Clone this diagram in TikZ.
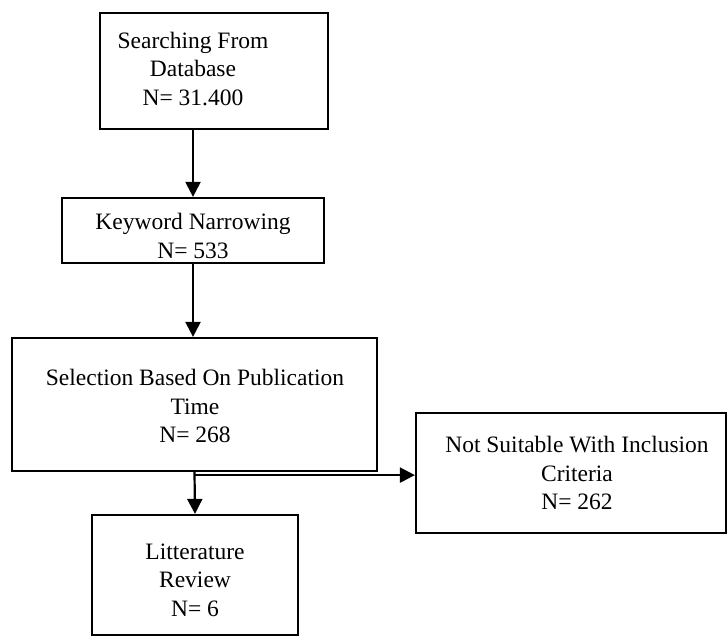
\documentclass[tikz,border=0pt]{standalone}
\usepackage{fontspec}
\setmainfont{Liberation Serif}
\usetikzlibrary{arrows.meta}
\begin{document}
\begin{tikzpicture}[x=1pt,y=-1pt,
  box/.style={draw=black, line width=2.2pt, rectangle, inner sep=0pt},
  txt/.style={align=center, inner sep=0pt, font=\fontsize{23.5}{28.5}\selectfont},
  arr/.style={draw=black, line width=2.2pt, -{Triangle[length=15pt,width=15pt]}}]
\useasboundingbox (0,0) rectangle (728,637);
% boxes
\node[box, minimum width=228pt, minimum height=116pt] (b1) at (214,71) {};
\node[txt] (t1) at (193,69) {Searching From\\Database\\N= 31.400};
\node[box, minimum width=262pt, minimum height=65pt] (b2) at (193,230.5) {};
\node[txt] (t2) at (193,236) {Keyword Narrowing\\N= 533};
\node[box, minimum width=365pt, minimum height=133pt] (b3) at (194.5,404.5) {};
\node[txt] (t3) at (195,406) {Selection Based On Publication\\Time\\N= 268};
\node[box, minimum width=310pt, minimum height=120pt] (b4) at (571,473) {};
\node[txt] (t4) at (577,473) {Not Suitable With Inclusion\\Criteria\\N= 262};
\node[box, minimum width=206pt, minimum height=120pt] (b5) at (195,575) {};
\node[txt] (t5) at (195,580) {Litterature\\Review\\N= 6};
% connectors
\draw[arr] (b1.south -| t1) -- (b2.north -| t1);
\draw[arr] (b2.south -| t2) -- (b3.north -| t2);
\draw[arr] (b3.south) -- (b5.north);
\coordinate (j) at ([yshift=-3pt]b3.south);
\draw[arr] (j) -- (j -| b4.west);
\end{tikzpicture}
\end{document}
